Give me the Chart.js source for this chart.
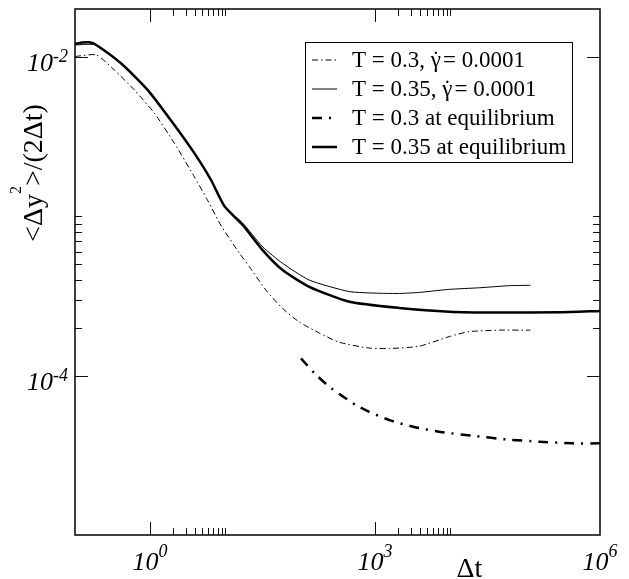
<!DOCTYPE html>
<html>
<head>
<meta charset="utf-8">
<script src="https://cdn.jsdelivr.net/npm/chart.js@4/dist/chart.umd.min.js"></script>
<style>
    html, body { margin: 0; padding: 0; background: #fff; }
    #wrap { width: 629px; height: 579px; position: relative; }
</style>
</head>
<body>
<div id="wrap"><canvas id="chart"></canvas></div>
<script>

// Series Labels
const seriesLabels = ['T = 0.3, \u03B3\u0307= 0.0001', 'T = 0.35, \u03B3\u0307= 0.0001', 'T = 0.3 at equilibrium', 'T = 0.35 at equilibrium'];

// T = 0.3 Sheared
const tColdShear = [0.1, 0.192, 0.334, 0.618, 1.14, 2.11, 3.9, 5.81, 8.93, 15.5, 21.1, 35.2, 58.6, 98, 181, 334, 839, 1552, 3900, 9795, 18100, 45400, 117700];
const yColdShear = [0.01007, 0.0103, 0.00829, 0.00621, 0.00445, 0.00288, 0.00177, 0.00127, 8.69e-4, 5.89e-4, 4.83e-4, 3.44e-4, 2.64e-4, 2.17e-4, 1.85e-4, 1.62e-4, 1.49e-4, 1.48e-4, 1.53e-4, 1.76e-4, 1.89e-4, 1.93e-4, 1.93e-4];

// T = 0.35 Sheared
const tHotShear = [0.1, 0.192, 0.41, 0.929, 2.11, 3.9, 6.51, 9.79, 17.2, 31.7, 58.6, 133, 454, 1140, 2108, 3900, 9795, 24600, 61800, 117700];
const yHotShear = [0.0119, 0.0119, 0.00913, 0.00621, 0.00374, 0.00249, 0.00169, 0.00116, 9.08e-4, 6.44e-4, 5.07e-4, 3.98e-4, 3.37e-4, 3.29e-4, 3.28e-4, 3.33e-4, 3.48e-4, 3.56e-4, 3.67e-4, 3.69e-4];

// T = 0.3 Equilibrium
const tColdEq = [103, 155, 246, 352, 558, 839, 1552, 3520, 8390, 19800, 55800, 155000, 427000, 1e6];
const yColdEq = [1.285e-4, 1.038e-4, 8.51e-5, 7.55e-5, 6.53e-5, 5.93e-5, 5.26e-5, 4.73e-5, 4.40e-5, 4.20e-5, 3.98e-5, 3.85e-5, 3.76e-5, 3.76e-5];

// T = 0.35 Equilibrium
const tHotEq = [0.1, 0.125, 0.155, 0.192, 0.41, 0.929, 2.11, 3.9, 6.51, 9.79, 17.2, 31.7, 58.6, 133, 454, 2108, 9795, 45400, 286000, 1e6];
const yHotEq = [0.01207, 0.01233, 0.01236, 0.0119, 0.00913, 0.00621, 0.00374, 0.00249, 0.00169, 0.00116, 8.82e-4, 6.14e-4, 4.60e-4, 3.61e-4, 2.91e-4, 2.66e-4, 2.52e-4, 2.49e-4, 2.50e-4, 2.55e-4];

// Axis Ticks
const xMajorTicks = [1, 1e3, 1e6];
const yMajorTicks = [1e-2, 1e-4];

// Make Points
const toPoints = function (xs, ys) {
    return xs.map((x, i) => ({ x: x, y: ys[i] }));
};

// Fonts
const serif = '"Liberation Serif", "Times New Roman", serif';

// Draw "10^n"
const drawPower = function (ctx, exp, x, base, supBase) {
    ctx.font = 'italic 26px ' + serif;
    ctx.textAlign = 'left';
    ctx.fillText('10', x, base);
    const w = ctx.measureText('10').width;
    ctx.font = 'italic 18px ' + serif;
    ctx.fillText(exp, x + w, supBase);
};

// Width Of "10^n"
const powerWidth = function (ctx, exp) {
    ctx.font = 'italic 26px ' + serif;
    const w = ctx.measureText('10').width;
    ctx.font = 'italic 18px ' + serif;
    return w + ctx.measureText(exp).width;
};

// Axis And Legend Plugin
const frameDecor = {
    id: 'frameDecor',
    afterDraw: function (chart) {

        const ctx = chart.ctx;
        const area = chart.chartArea;
        const xs = chart.scales.x;
        const ys = chart.scales.y;

        ctx.save();
        ctx.strokeStyle = '#111';
        ctx.fillStyle = '#000';

        // Frame
        ctx.lineWidth = 1.6;
        ctx.strokeRect(area.left, area.top, area.right - area.left, area.bottom - area.top);

        // Tick Line
        const tick = function (x1, y1, x2, y2) {
            ctx.beginPath();
            ctx.moveTo(x1, y1);
            ctx.lineTo(x2, y2);
            ctx.stroke();
        };
        ctx.lineWidth = 1;

        // X Ticks
        for (const v of xMajorTicks) {
            const px = Math.round(xs.getPixelForValue(v)) + 0.5;
            if (v > xs.min && v < xs.max) {
                tick(px, area.bottom, px, area.bottom - 13);
                tick(px, area.top, px, area.top + 13);
            }
            for (let k = 2; k <= 10; k++) {
                const mv = v * k;
                if (mv <= xs.min || mv >= xs.max) { continue; }
                const mx = Math.round(xs.getPixelForValue(mv)) + 0.5;
                tick(mx, area.bottom, mx, area.bottom - 7);
                tick(mx, area.top, mx, area.top + 7);
            }
        }

        // Y Ticks
        for (const v of yMajorTicks) {
            const py = Math.round(ys.getPixelForValue(v)) + 0.5;
            if (v > ys.min && v < ys.max) {
                tick(area.left, py, area.left + 13, py);
                tick(area.right, py, area.right - 13, py);
            }
            for (let k = 2; k <= 10; k++) {
                const mv = v * k;
                if (mv <= ys.min || mv >= ys.max * 0.99) { continue; }
                const my = Math.round(ys.getPixelForValue(mv)) + 0.5;
                tick(area.left, my, area.left + 7, my);
                tick(area.right, my, area.right - 7, my);
            }
        }

        // X Labels
        for (const v of xMajorTicks) {
            const px = xs.getPixelForValue(v);
            drawPower(ctx, String(Math.round(Math.log10(v))), px - 17.5, 570, 557);
        }

        // Y Labels
        for (const v of yMajorTicks) {
            const py = ys.getPixelForValue(v);
            const exp = '-' + String(Math.abs(Math.round(Math.log10(v))));
            drawPower(ctx, exp, 68 - powerWidth(ctx, exp), py + 14.5, py + 5.5);
        }

        // X Title
        ctx.font = '28px ' + serif;
        ctx.textAlign = 'center';
        ctx.fillText('\u0394t', 469.5, 577);

        // Y Title
        ctx.save();
        ctx.translate(42, 173);
        ctx.rotate(-Math.PI / 2);
        ctx.textAlign = 'left';
        const pieces = [['<\u0394y', 28, 0], ['2', 16, -21], ['>/(2\u0394t)', 28, 0]];
        let total = 0;
        for (const p of pieces) { ctx.font = p[1] + 'px ' + serif; total += ctx.measureText(p[0]).width; }
        let cx = -total / 2;
        for (const p of pieces) {
            ctx.font = p[1] + 'px ' + serif;
            ctx.fillText(p[0], cx, p[2]);
            cx += ctx.measureText(p[0]).width;
        }
        ctx.restore();

        // Legend Box
        ctx.lineWidth = 1;
        ctx.strokeStyle = '#000';
        ctx.strokeRect(305.5, 42.5, 267, 120);

        // Legend Rows
        chart.data.datasets.forEach(function (ds, i) {
            const rowY = 60 + i * 29;
            ctx.save();
            ctx.lineWidth = ds.borderWidth;
            ctx.setLineDash(ds.borderDash || []);
            ctx.beginPath();
            ctx.moveTo(312, rowY);
            ctx.lineTo(337, rowY);
            ctx.stroke();
            ctx.restore();

            ctx.font = '23px ' + serif;
            ctx.textAlign = 'left';
            const parts = ds.label.split('\u0307');
            const base = rowY + 6.5;
            if (parts.length > 1) {
                ctx.fillText(parts[0], 352, base);
                const w0 = ctx.measureText(parts[0]).width;
                const wg = ctx.measureText('\u03B3').width;
                ctx.textAlign = 'center';
                ctx.fillText('\u02D9', 352 + w0 - wg / 2, base);
                ctx.textAlign = 'left';
                ctx.fillText(parts[1], 352 + w0 + 2, base);
            } else {
                ctx.fillText(ds.label, 352, base);
            }
        });

        ctx.restore();

    }
};

// Create Chart
const ctx = document.getElementById('chart').getContext('2d');
const chart = new Chart(ctx, {
    type: 'scatter',
    data: {
        datasets: [

            // T = 0.3 Sheared
            {
                label: seriesLabels[0],
                data: toPoints(tColdShear, yColdShear),
                borderColor: '#000',
                borderWidth: 1,
                borderDash: [6, 3, 1.5, 3]
            },

            // T = 0.35 Sheared
            {
                label: seriesLabels[1],
                data: toPoints(tHotShear, yHotShear),
                borderColor: '#000',
                borderWidth: 1
            },

            // T = 0.3 Equilibrium
            {
                label: seriesLabels[2],
                data: toPoints(tColdEq, yColdEq),
                borderColor: '#000',
                borderWidth: 2.5,
                borderDash: [10, 7, 2, 7]
            },

            // T = 0.35 Equilibrium
            {
                label: seriesLabels[3],
                data: toPoints(tHotEq, yHotEq),
                borderColor: '#000',
                borderWidth: 2.5
            }
        ]
    },
    options: {
        responsive: true,
        maintainAspectRatio: false,
        animation: false,
        showLine: true,
        elements: {
            point: { radius: 0, hoverRadius: 0 },
            line: { tension: 0.2, fill: false }
        },
        layout: { padding: { left: 75, top: 9, right: 29, bottom: 44 } },
        plugins: {
            legend: { display: false },
            tooltip: { enabled: false }
        },
        scales: {
            x: { type: 'logarithmic', min: 0.1, max: 1e6, display: false },
            y: { type: 'logarithmic', min: 1e-5, max: 0.02, display: false }
        }
    },
    plugins: [frameDecor]
});

</script>
</body>
</html>
